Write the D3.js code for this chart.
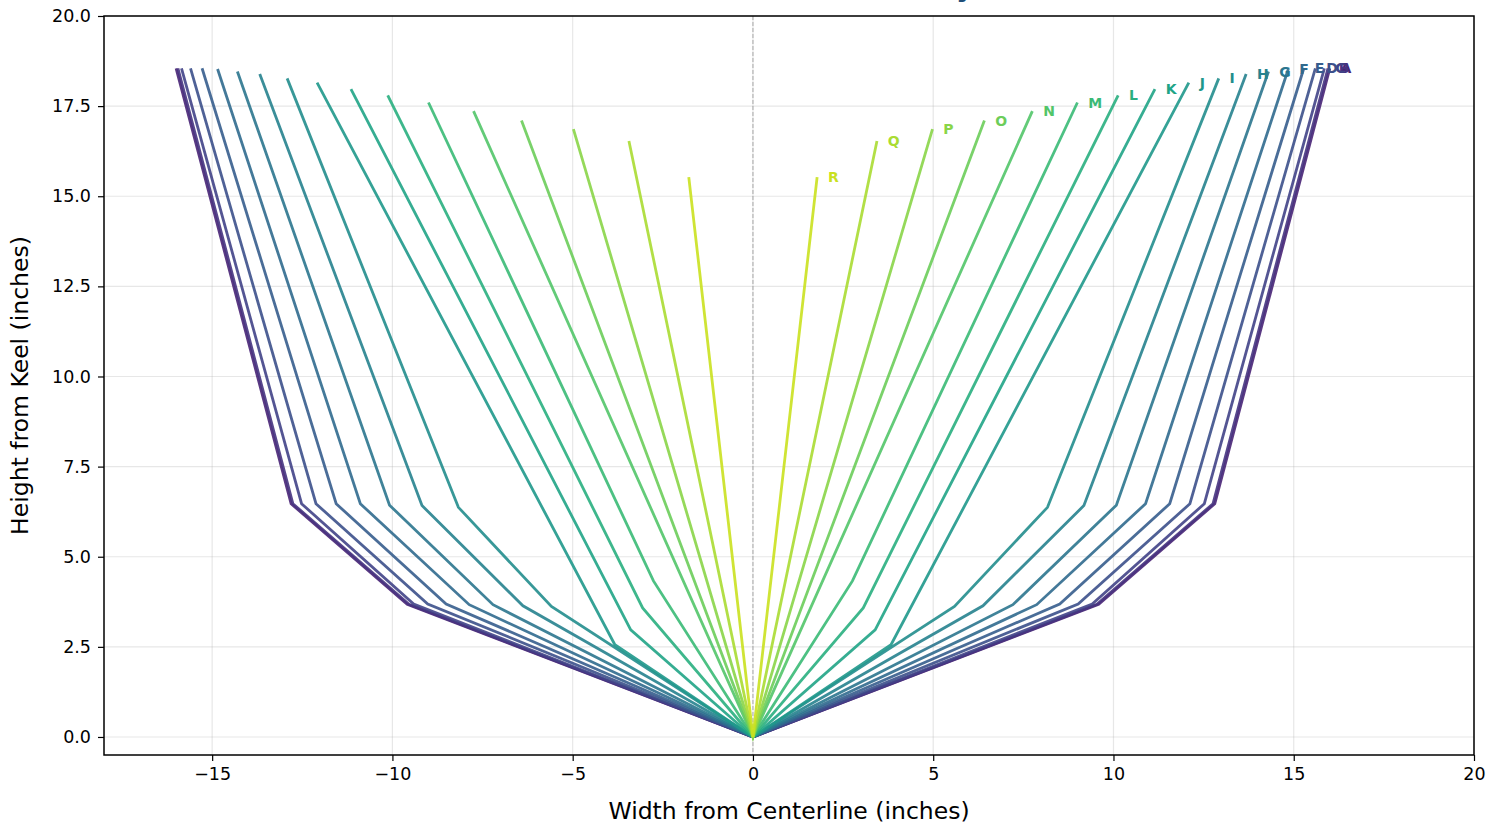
<!DOCTYPE html>
<html>
<head>
<meta charset="utf-8">
<script src="https://cdn.jsdelivr.net/npm/d3@7"></script>
<style>
  html, body { margin: 0; padding: 0; background: #fff; }
  svg { display: block; font-family: "DejaVu Sans", sans-serif; }
</style>
</head>
<body>
<svg id="chart" width="1502" height="825"></svg>
<script>
// ---- data (inches) ----
const stations = ['A','B','C','D','E','F','G','H','I','J','K','L','M','N','O','P','Q','R'];
const sheerHalfBreadth = [16.0, 15.95, 15.85, 15.6, 15.28, 14.85, 14.3, 13.68, 12.92, 12.09, 11.15, 10.13, 9.0, 7.75, 6.42, 4.98, 3.44, 1.78];
const sheerHeight      = [18.55, 18.55, 18.55, 18.55, 18.55, 18.53, 18.46, 18.39, 18.27, 18.15, 17.97, 17.8, 17.6, 17.36, 17.1, 16.86, 16.53, 15.53];
const upperChineHalfBreadth = [12.81, 12.76, 12.52, 12.12, 11.56, 10.89, 10.08, 9.18, 8.17, null, null, null, null, null, null, null, null, null];
const upperChineHeight      = [6.47, 6.47, 6.47, 6.47, 6.47, 6.47, 6.43, 6.42, 6.37, null, null, null, null, null, null, null, null, null];
const lowerChineHalfBreadth = [9.59, 9.54, 9.41, 9.02, 8.51, 7.87, 7.21, 6.38, 5.59, 3.83, 3.39, 3.06, 2.76, null, null, null, null, null];
const lowerChineHeight      = [3.68, 3.68, 3.69, 3.69, 3.69, 3.67, 3.67, 3.64, 3.62, 2.56, 2.97, 3.58, 4.33, null, null, null, null, null];
const xTicks = [-15, -10, -5, 0, 5, 10, 15, 20];
const yTicks = [0, 2.5, 5, 7.5, 10, 12.5, 15, 17.5, 20];
const titleText = "Hull Stations A–R: Body";
const xLabelText = "Width from Centerline (inches)";
const yLabelText = "Height from Keel (inches)";

(function () {
  const svg = d3.select('#chart');
  const pL = 104, pR = 1474, pT = 16, pB = 755;
  const x = d3.scaleLinear().domain([-18, 20]).range([pL, pR]);
  const y = d3.scaleLinear().domain([-0.5, 20]).range([pB, pT]);
  const color = i => d3.interpolateViridis(0.1 + 0.82 * i / (stations.length - 1));

  // grid
  const grid = svg.append('g');
  grid.selectAll('line.gx').data(xTicks).join('line').attr('class', 'gx')
    .attr('x1', d => x(d)).attr('x2', d => x(d)).attr('y1', pT).attr('y2', pB)
    .attr('stroke', '#b0b0b0').attr('stroke-opacity', 0.3).attr('stroke-width', 1.2);
  grid.selectAll('line.gy').data(yTicks).join('line').attr('class', 'gy')
    .attr('y1', d => y(d)).attr('y2', d => y(d)).attr('x1', pL).attr('x2', pR)
    .attr('stroke', '#b0b0b0').attr('stroke-opacity', 0.3).attr('stroke-width', 1.2);

  // centerline
  svg.append('line')
    .attr('x1', x(0)).attr('x2', x(0)).attr('y1', pT).attr('y2', pB)
    .attr('stroke', '#999').attr('stroke-width', 1).attr('stroke-dasharray', '4,2').attr('opacity', 0.8);

  // stations
  const line = d3.line().x(d => x(d[0])).y(d => y(d[1]));
  const sections = stations.map((s, i) => {
    const half = [];
    if (lowerChineHalfBreadth[i] != null) half.push([lowerChineHalfBreadth[i], lowerChineHeight[i]]);
    if (upperChineHalfBreadth[i] != null) half.push([upperChineHalfBreadth[i], upperChineHeight[i]]);
    half.push([sheerHalfBreadth[i], sheerHeight[i]]);
    const pts = half.slice().reverse().map(p => [-p[0], p[1]]).concat([[0, 0]]).concat(half);
    return { name: s, i, pts };
  });
  svg.append('g').selectAll('path').data(sections).join('path')
    .attr('d', d => line(d.pts))
    .attr('fill', 'none')
    .attr('stroke', d => color(d.i))
    .attr('stroke-width', 2.8)
    .attr('stroke-opacity', 0.9)
    .attr('stroke-linejoin', 'miter');

  // labels
  svg.append('g').selectAll('text').data(sections).join('text')
    .attr('x', d => x(sheerHalfBreadth[d.i] + 0.3))
    .attr('y', d => y(sheerHeight[d.i]))
    .attr('dy', '0.36em')
    .attr('fill', d => color(d.i))
    .attr('font-size', 14).attr('font-weight', 'bold')
    .text(d => d.name);

  // axes
  const xAxis = d3.axisBottom(x).tickValues(xTicks).tickSize(6).tickPadding(7)
    .tickFormat(d => d < 0 ? '\u2212' + Math.abs(d) : String(d));
  const yAxis = d3.axisLeft(y).tickValues(yTicks).tickSize(6).tickPadding(7)
    .tickFormat(d3.format('.1f'));
  const gx = svg.append('g').attr('transform', `translate(0,${pB})`).call(xAxis);
  const gy = svg.append('g').attr('transform', `translate(${pL},0)`).call(yAxis);
  [gx, gy].forEach(g => {
    g.select('.domain').remove();
    g.selectAll('text').attr('font-size', 17.5).attr('fill', '#000').attr('font-family', 'DejaVu Sans');
    g.selectAll('line').attr('stroke', '#000').attr('stroke-width', 1.2);
  });

  // frame
  svg.append('rect').attr('x', pL).attr('y', pT).attr('width', pR - pL).attr('height', pB - pT)
    .attr('fill', 'none').attr('stroke', '#000').attr('stroke-width', 1.5);

  // axis labels
  svg.append('text').attr('x', (pL + pR) / 2).attr('y', 819)
    .attr('text-anchor', 'middle').attr('font-size', 23.5).attr('fill', '#000').text(xLabelText);
  svg.append('text').attr('transform', `translate(28,${(pT + pB) / 2}) rotate(-90)`)
    .attr('text-anchor', 'middle').attr('font-size', 23.5).attr('fill', '#000').text(yLabelText);

  // title (mostly above the visible area, as in the reference)
  svg.append('text').attr('x', (pL + pR) / 2).attr('y', -4)
    .attr('text-anchor', 'middle').attr('font-size', 28).attr('font-weight', 'bold')
    .attr('fill', '#1f4e79').text(titleText);
})();
</script>
</body>
</html>
